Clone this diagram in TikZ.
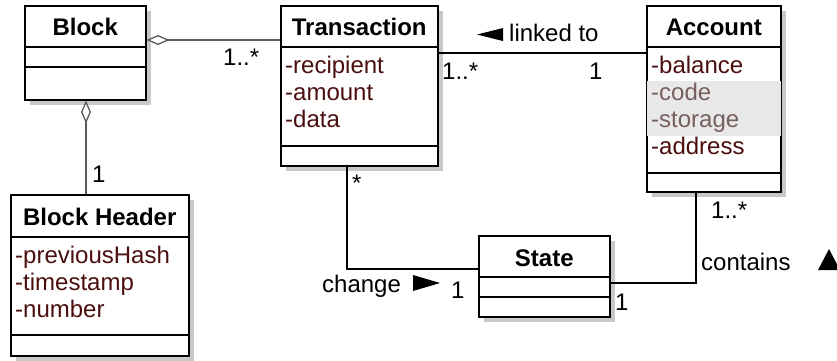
\documentclass[tikz,border=0pt]{standalone}
\usepackage{fontspec}
\setmainfont{Liberation Sans}
\usetikzlibrary{arrows.meta,calc,shadows}
\definecolor{attr}{RGB}{75,15,15}
\definecolor{attrgray}{RGB}{120,95,95}
\definecolor{hl}{RGB}{232,232,232}
\definecolor{shadowc}{RGB}{200,200,200}
\definecolor{agggray}{RGB}{90,90,90}
\begin{document}
\begin{tikzpicture}[x=1pt,y=-1pt,
  font=\fontsize{24}{27}\selectfont,
  classbox/.style={draw=black, line width=1.5pt, fill=white, inner sep=0pt, anchor=north west,
    drop shadow={shadow xshift=5pt, shadow yshift=-5pt, fill=shadowc, opacity=1}},
  sepline/.style={line width=1.5pt},
  title/.style={font=\fontsize{24}{27}\selectfont\bfseries, anchor=base, inner sep=0pt},
  attrtext/.style={text=attr, anchor=base west, inner sep=0pt},
  attrdim/.style={text=attrgray, anchor=base west, inner sep=0pt},
  lbl/.style={anchor=base west, inner sep=0pt},
  conn/.style={line width=1.3pt, black},
  aggconn/.style={line width=1.3pt, agggray, {Diamond[fill=white, length=23pt, width=10pt]}-},
]
\useasboundingbox (0,0) rectangle (837,360);

% ---------- Block ----------
\node[classbox, minimum width=121pt, minimum height=94pt] (block) at (24,5) {};
\node[title] (blockT) at ($(block.north)+(0,30)$) {Block};
\draw[sepline] ($(block.north west)+(0,42)$) -- ($(block.north east)+(0,42)$);
\draw[sepline] ($(block.north west)+(0,62)$) -- ($(block.north east)+(0,62)$);

% ---------- Transaction ----------
\node[classbox, minimum width=157pt, minimum height=160pt] (trans) at (280,5) {};
\node[title] (transT) at ($(trans.north)+(0,30)$) {Transaction};
\draw[sepline] ($(trans.north west)+(0,42)$) -- ($(trans.north east)+(0,42)$);
\draw[sepline] ($(trans.north west)+(0,141)$) -- ($(trans.north east)+(0,141)$);
\node[attrtext] (tA1) at ($(trans.north west)+(5,68)$) {-recipient};
\node[attrtext] (tA2) at ($(trans.north west)+(5,95)$) {-amount};
\node[attrtext] (tA3) at ($(trans.north west)+(5,122)$) {-data};

% ---------- Account ----------
\node[classbox, minimum width=134pt, minimum height=186pt] (acc) at (646,5) {};
\fill[hl] ($(acc.north west)+(0.75,76)$) rectangle ($(acc.north east)+(-0.75,131)$);
\node[title] (accT) at ($(acc.north)+(0,30)$) {Account};
\draw[sepline] ($(acc.north west)+(0,42)$) -- ($(acc.north east)+(0,42)$);
\draw[sepline] ($(acc.north west)+(0,168)$) -- ($(acc.north east)+(0,168)$);
\node[attrtext] (aA1) at ($(acc.north west)+(5,68)$) {-balance};
\node[attrdim]  (aA2) at ($(acc.north west)+(5,95)$) {-code};
\node[attrdim]  (aA3) at ($(acc.north west)+(5,122)$) {-storage};
\node[attrtext] (aA4) at ($(acc.north west)+(5,149)$) {-address};

% ---------- Block Header ----------
\node[classbox, minimum width=178pt, minimum height=161pt] (bh) at (10,194) {};
\node[title] (bhT) at ($(bh.north)+(0,31)$) {Block Header};
\draw[sepline] ($(bh.north west)+(0,43)$) -- ($(bh.north east)+(0,43)$);
\draw[sepline] ($(bh.north west)+(0,141)$) -- ($(bh.north east)+(0,141)$);
\node[attrtext] (hA1) at ($(bh.north west)+(5,69)$) {-previousHash};
\node[attrtext] (hA2) at ($(bh.north west)+(5,96)$) {-timestamp};
\node[attrtext] (hA3) at ($(bh.north west)+(5,123)$) {-number};

% ---------- State ----------
\node[classbox, minimum width=131pt, minimum height=81pt] (state) at (478,235) {};
\node[title] (stateT) at ($(state.north)+(0,31)$) {State};
\draw[sepline] ($(state.north west)+(0,42)$) -- ($(state.north east)+(0,42)$);
\draw[sepline] ($(state.north west)+(0,62)$) -- ($(state.north east)+(0,62)$);

% ---------- Connectors ----------
% Block <>-- Transaction
\coordinate (bt) at ($(block.north east)+(0,35)$);
\draw[aggconn] (bt) -- (bt -| trans.west);
\node[lbl] (btM) at (223,65) {1..*};

% Block <>-- Block Header
\coordinate (bb) at ($(block.south west)+(62,0)$);
\draw[aggconn] (bb) -- (bb |- bh.north);
\node[lbl] (bbM) at (92,182) {1};

% Transaction -- Account
\coordinate (ta) at ($(trans.north east)+(0,48)$);
\draw[conn] (ta) -- (ta -| acc.west);
\fill (477,34.5) -- (503,28) -- (503,41) -- cycle;
\node[lbl] (taL) at (509,41) {linked to};
\node[lbl] (taM1) at (442,79) {1..*};
\node[lbl] (taM2) at (589,79) {1};

% Transaction -- State
\coordinate (ts1) at ($(trans.south west)+(67,0)$);
\coordinate (ts2) at ($(state.north west)+(0,34)$);
\draw[conn] (ts1) |- (ts2);
\node[lbl] (tsM1) at (352,191) {*};
\node[lbl] (tsL) at (322,292) {change};
\fill (413,275) -- (440,283) -- (413,291) -- cycle;
\node[lbl] (tsM2) at (451,298) {1};

% State -- Account
\coordinate (sa1) at ($(state.north east)+(0,48)$);
\coordinate (sa2) at ($(acc.south west)+(50,0)$);
\draw[conn] (sa1) -| (sa2);
\node[lbl] (saM1) at (615,310) {1};
\node[lbl] (saM2) at (711,218) {1..*};
\node[lbl] (saL) at (701,270) {contains};
\fill (818,270) -- (840,270) -- (829,249) -- cycle;
\end{tikzpicture}
\end{document}
